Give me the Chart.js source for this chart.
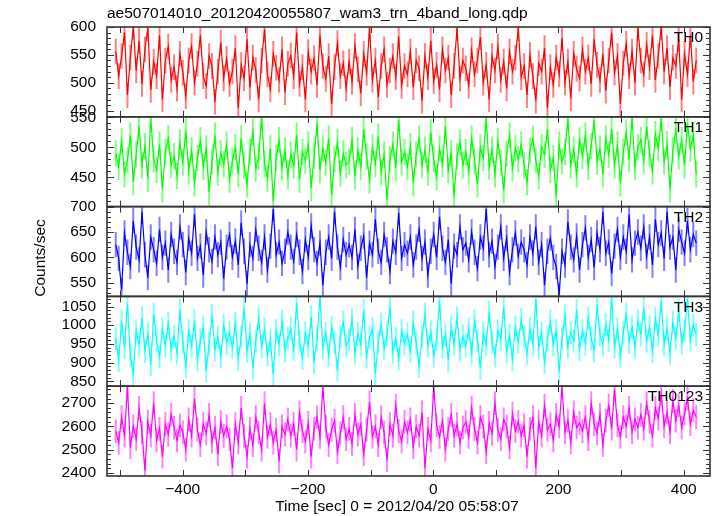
<!DOCTYPE html>
<html>
<head>
<meta charset="utf-8">
<script src="https://cdn.jsdelivr.net/npm/chart.js@4.4.1/dist/chart.umd.min.js"></script>
<style>
    html, body { margin: 0; padding: 0; background: #fff; }
    #wrap { width: 717px; height: 516px; position: relative; }
</style>
</head>
<body>
<div id="wrap"><canvas id="lc" width="717" height="516"></canvas></div>
<script>
// WAM light curve, 4 bands + sum

const FILE_TITLE = 'ae507014010_20120420055807_wam3_trn_4band_long.qdp';
const X_TITLE = 'Time [sec] 0 = 2012/04/20 05:58:07';
const Y_TITLE = 'Counts/sec';

const T_START = -507;
const T_END = 420;
const X_TICKS = [-400, -200, 0, 200, 400];

const BANDS = ['TH0', 'TH1', 'TH2', 'TH3', 'TH0123'];
const LINE_COLORS = ['#ff0000', '#00ff00', '#0000ff', '#00ffff', '#ff00ff'];
const ERR_COLORS = ['rgba(255,0,0,0.5)', 'rgba(0,255,0,0.5)', 'rgba(0,0,255,0.5)', 'rgba(0,255,255,0.5)', 'rgba(255,0,255,0.5)'];
const Y_MIN = [439, 401, 523, 837, 2387];
const Y_MAX = [600, 551, 700, 1077, 2773];
const Y_TICKS = [
    [450, 500, 550, 600],
    [450, 500, 550],
    [550, 600, 650, 700],
    [850, 900, 950, 1000, 1050],
    [2400, 2500, 2600, 2700]
];
const MINOR_STEP = [10, 10, 10, 10, 20];
const MAJOR_STEP = [50, 50, 50, 50, 100];
const ERR = [23, 22, 25, 31, 51];

const TH0 = [
    556, 512, 548, 590, 478, 545, 600, 522, 575, 498, 560, 598, 487, 538, 512, 585, 470, 540, 565, 505,
    528, 490, 552, 518, 476, 540, 566, 500, 534, 585, 512, 494, 548, 530, 466, 520, 572, 508, 543, 498,
    520, 562, 455, 532, 508, 578, 491, 545, 523, 470, 540, 596, 515, 488, 552, 527, 505, 560, 483, 534,
    549, 512, 590, 498, 528, 470, 555, 520, 544, 496, 585, 530, 507, 548, 462, 528, 571, 512, 535, 490,
    538, 502, 566, 524, 481, 552, 518, 598, 505, 540, 474, 530, 560, 496, 522, 548, 510, 583, 495, 530,
    515, 556, 492, 540, 526, 468, 548, 510, 575, 503, 532, 488, 560, 522, 545, 478, 530, 598, 508, 540,
    526, 495, 558, 515, 540, 582, 500, 532, 470, 548, 522, 565, 505, 538, 490, 556, 520, 545, 598, 510,
    530, 478, 550, 512, 468, 535, 520, 562, 455, 528, 496, 545, 515, 580, 500, 538, 472, 552, 525, 508,
    560, 520, 545, 498, 578, 532, 505, 552, 486, 540, 590, 518, 548, 462, 535, 570, 512, 556, 500, 598,
    540, 515, 568, 528, 585, 505, 548, 600, 520, 562, 492, 545, 530, 578, 470, 552, 515, 586, 502, 540
];
const TH1 = [
    490, 468, 510, 455, 478, 520, 442, 488, 535, 470, 502, 448, 548, 480, 462, 505, 430, 492, 515, 470,
    485, 452, 508, 475, 528, 460, 495, 440, 482, 512, 468, 498, 425, 476, 520, 458, 490, 472, 505, 446,
    478, 500, 455, 515, 470, 438, 492, 526, 464, 485, 550, 472, 448, 498, 410, 482, 512, 466, 495, 452,
    488, 470, 520, 446, 492, 478, 505, 432, 486, 540, 462, 498, 475, 515, 420, 480, 508, 456, 490, 470,
    476, 512, 452, 495, 468, 530, 485, 445, 500, 472, 518, 458, 488, 412, 480, 505, 466, 545, 475, 492,
    468, 502, 440, 488, 515, 470, 496, 458, 525, 480, 450, 498, 472, 535, 462, 490, 418, 485, 508, 470,
    492, 460, 515, 478, 438, 500, 482, 548, 468, 496, 455, 510, 475, 428, 490, 520, 465, 498, 480, 505,
    470, 442, 495, 515, 478, 452, 500, 488, 530, 462, 482, 418, 505, 476, 492, 548, 470, 496, 455, 512,
    486, 520, 468, 502, 545, 476, 498, 455, 515, 488, 530, 470, 505, 440, 492, 525, 480, 550, 468, 500,
    512, 478, 535, 490, 460, 522, 498, 548, 476, 505, 430, 495, 528, 485, 512, 470, 540, 498, 520, 455
];
const TH2 = [
    625, 598, 535, 648, 610, 582, 672, 620, 595, 690, 605, 560, 640, 615, 588, 655, 600, 628, 575, 645,
    612, 590, 660, 625, 570, 638, 608, 685, 598, 622, 565, 650, 615, 592, 640, 605, 630, 558, 620, 645,
    600, 632, 585, 668, 612, 548, 625, 598, 655, 618, 590, 640, 575, 622, 695, 605, 630, 588, 612, 650,
    620, 592, 645, 610, 572, 635, 600, 662, 615, 588, 628, 545, 610, 640, 598, 690, 620, 580, 635, 605,
    625, 600, 655, 582, 618, 642, 560, 628, 605, 675, 612, 590, 645, 615, 572, 632, 610, 688, 598, 625,
    608, 640, 585, 620, 655, 598, 630, 565, 612, 645, 600, 680, 618, 590, 635, 548, 622, 605, 660, 615,
    628, 595, 650, 610, 578, 640, 618, 695, 605, 632, 582, 620, 660, 598, 638, 570, 615, 648, 602, 630,
    615, 585, 640, 608, 660, 590, 625, 545, 612, 638, 600, 582, 525, 612, 585, 670, 620, 595, 642, 575,
    625, 658, 600, 635, 580, 648, 615, 690, 608, 630, 568, 622, 655, 600, 640, 612, 685, 595, 628, 650,
    618, 660, 602, 640, 585, 675, 625, 648, 598, 690, 620, 640, 575, 655, 630, 608, 672, 615, 645, 628
];
const TH3 = [
    965, 905, 1010, 940, 1058, 920, 870, 985, 950, 1020, 930, 975, 895, 1030, 960, 915, 990, 945, 1005, 935,
    970, 925, 1040, 955, 890, 985, 945, 1012, 908, 960, 995, 878, 950, 1025, 935, 968, 915, 1000, 952, 980,
    940, 1005, 910, 968, 1045, 930, 975, 885, 958, 1018, 942, 990, 920, 960, 870, 985, 948, 1010, 932, 965,
    990, 935, 1060, 958, 912, 980, 945, 1022, 900, 965, 1075, 940, 978, 920, 995, 955, 880, 970, 1008, 945,
    962, 1015, 925, 978, 948, 1040, 915, 968, 990, 870, 955, 1002, 938, 975, 1050, 928, 965, 910, 985, 950,
    975, 930, 1008, 952, 890, 968, 1030, 945, 982, 918, 962, 1065, 940, 975, 905, 995, 950, 1020, 935, 970,
    945, 990, 925, 1012, 960, 885, 978, 948, 1035, 955, 918, 985, 962, 1048, 930, 972, 908, 995, 955, 1015,
    968, 925, 990, 950, 1070, 940, 978, 900, 962, 1010, 948, 985, 875, 965, 1025, 942, 980, 958, 1040, 935,
    985, 950, 1020, 965, 932, 1055, 975, 948, 1002, 960, 1072, 942, 990, 918, 978, 1030, 955, 995, 940, 1012,
    975, 1045, 958, 995, 930, 1018, 972, 1065, 948, 990, 925, 1008, 965, 1040, 952, 985, 1070, 960, 1000, 975
];
const TH0123 = [
    2580, 2530, 2640, 2560, 2770, 2510, 2600, 2545, 2680, 2575, 2410, 2620, 2560, 2700, 2540, 2590, 2470, 2610, 2565, 2650,
    2595, 2540, 2605, 2575, 2500, 2630, 2560, 2720, 2585, 2520, 2610, 2570, 2650, 2535, 2595, 2480, 2620, 2560, 2600, 2545,
    2420, 2610, 2530, 2680, 2560, 2470, 2590, 2520, 2640, 2575, 2500, 2700, 2555, 2610, 2530, 2585, 2450, 2600, 2565, 2630,
    2560, 2610, 2500, 2660, 2580, 2535, 2615, 2470, 2590, 2640, 2555, 2770, 2600, 2520, 2585, 2625, 2490, 2570, 2640, 2545,
    2590, 2525, 2650, 2565, 2610, 2480, 2585, 2705, 2555, 2600, 2520, 2640, 2575, 2455, 2610, 2560, 2690, 2580, 2535, 2620,
    2575, 2630, 2510, 2600, 2560, 2660, 2420, 2590, 2540, 2770, 2605, 2555, 2625, 2500, 2590, 2650, 2560, 2610, 2530, 2595,
    2620, 2555, 2680, 2590, 2530, 2640, 2600, 2490, 2615, 2570, 2700, 2585, 2545, 2630, 2600, 2510, 2655, 2580, 2620, 2560,
    2605, 2470, 2590, 2640, 2420, 2620, 2560, 2690, 2585, 2610, 2540, 2650, 2600, 2770, 2575, 2625, 2530, 2660, 2595, 2615,
    2580, 2640, 2545, 2700, 2610, 2570, 2650, 2520, 2625, 2690, 2590, 2760, 2605, 2555, 2640, 2600, 2680, 2575, 2630, 2595,
    2650, 2590, 2700, 2620, 2560, 2680, 2635, 2740, 2600, 2660, 2575, 2710, 2625, 2690, 2595, 2655, 2720, 2610, 2670, 2640
];

const SERIES = [TH0, TH1, TH2, TH3, TH0123];
const FONT = '"Liberation Sans", Arial, sans-serif';
const FONT_SIZE = 15.5;

// bins are evenly spaced between T_START and T_END
function toPoints(values) {
    const dt = (T_END - T_START) / (values.length - 1);
    return values.map((v, i) => ({ x: T_START + i * dt, y: v }));
}

const datasets = SERIES.map((vals, i) => ({
    label: BANDS[i],
    data: toPoints(vals),
    yAxisID: 'y' + i,
    borderColor: LINE_COLORS[i],
    borderWidth: 1.2,
    pointRadius: 0,
    fill: false,
    tension: 0
}));

function yScale(i) {
    return {
        type: 'linear',
        position: 'left',
        stack: 'panels',
        stackWeight: 1,
        min: Y_MIN[i],
        max: Y_MAX[i],
        grid: { display: false, drawTicks: false },
        border: { display: false },
        afterBuildTicks: s => { s.ticks = Y_TICKS[i].map(v => ({ value: v })); },
        afterFit: s => { s.width = 107; },
        ticks: {
            color: '#000',
            padding: 11,
            autoSkip: false,
            font: { family: FONT, size: FONT_SIZE },
            callback: v => String(v)
        }
    };
}

// bottom panel first: stacked left axes are laid out in reverse order
const scales = {
    x: {
        type: 'linear',
        min: -521,
        max: 442,
        grid: { display: false, drawTicks: false },
        border: { display: false },
        afterBuildTicks: s => { s.ticks = X_TICKS.map(v => ({ value: v })); },
        afterFit: s => { s.height = 40; },
        ticks: {
            color: '#000',
            padding: 4,
            autoSkip: false,
            maxRotation: 0,
            font: { family: FONT, size: FONT_SIZE },
            callback: v => String(v).replace('-', '\u2212')
        }
    }
};
for (let i = BANDS.length - 1; i >= 0; i--) scales['y' + i] = yScale(i);

const panelPlugin = {
    id: 'panels',
    beforeDatasetDraw(chart, args) {
        const ctx = chart.ctx, a = chart.chartArea;
        const i = args.index;
        const ys = chart.scales['y' + i], xs = chart.scales.x;
        ctx.save();
        ctx.beginPath();
        ctx.rect(a.left, ys.top, a.right - a.left, ys.bottom - ys.top);
        ctx.clip();
        // error bars
        ctx.strokeStyle = ERR_COLORS[i];
        ctx.lineWidth = 2;
        ctx.beginPath();
        chart.data.datasets[i].data.forEach(p => {
            const px = xs.getPixelForValue(p.x);
            ctx.moveTo(px, ys.getPixelForValue(p.y - ERR[i]));
            ctx.lineTo(px, ys.getPixelForValue(p.y + ERR[i]));
        });
        ctx.stroke();
    },
    afterDatasetDraw(chart) {
        chart.ctx.restore();
    },
    afterDraw(chart) {
        const ctx = chart.ctx, a = chart.chartArea, xs = chart.scales.x;
        ctx.save();
        BANDS.forEach((name, i) => {
            const ys = chart.scales['y' + i];
            const top = ys.top, bot = ys.bottom;
            ctx.strokeStyle = '#333';
            ctx.lineWidth = 1;
            ctx.beginPath();
            const start = Math.ceil(ys.min / MINOR_STEP[i]) * MINOR_STEP[i];
            for (let v = start; v <= ys.max; v += MINOR_STEP[i]) {
                const py = Math.round(ys.getPixelForValue(v)) + 0.5;
                const len = v % MAJOR_STEP[i] === 0 ? 7 : 4;
                ctx.moveTo(a.left, py); ctx.lineTo(a.left + len, py);
                ctx.moveTo(a.right, py); ctx.lineTo(a.right - len, py);
            }
            for (let t = -500; t <= 400; t += 100) {
                const px = Math.round(xs.getPixelForValue(t)) + 0.5;
                ctx.moveTo(px, top); ctx.lineTo(px, top + 6);
                ctx.moveTo(px, bot); ctx.lineTo(px, bot - 6);
            }
            ctx.stroke();
            ctx.lineWidth = 1.6;
            ctx.strokeRect(a.left, top, a.right - a.left, bot - top);

            ctx.fillStyle = '#000';
            ctx.font = FONT_SIZE + 'px ' + FONT;
            ctx.textAlign = 'right';
            ctx.textBaseline = 'middle';
            ctx.fillText(name, a.right - 7, top + 11);
        });

        ctx.fillStyle = '#000';
        ctx.font = FONT_SIZE + 'px ' + FONT;
        ctx.textBaseline = 'middle';
        ctx.textAlign = 'left';
        ctx.fillText(FILE_TITLE, a.left, 14);
        ctx.textAlign = 'center';
        ctx.fillText(X_TITLE, 397, 507);
        ctx.translate(41, 258);
        ctx.rotate(-Math.PI / 2);
        ctx.fillText(Y_TITLE, 0, 0);
        ctx.restore();
    }
};

new Chart(document.getElementById('lc'), {
    type: 'line',
    data: { datasets },
    options: {
        responsive: false,
        animation: false,
        devicePixelRatio: 1,
        layout: { padding: { left: 0, right: 7, top: 27, bottom: 0 } },
        plugins: {
            legend: { display: false },
            tooltip: { enabled: false }
        },
        scales
    },
    plugins: [panelPlugin]
});
</script>
</body>
</html>
